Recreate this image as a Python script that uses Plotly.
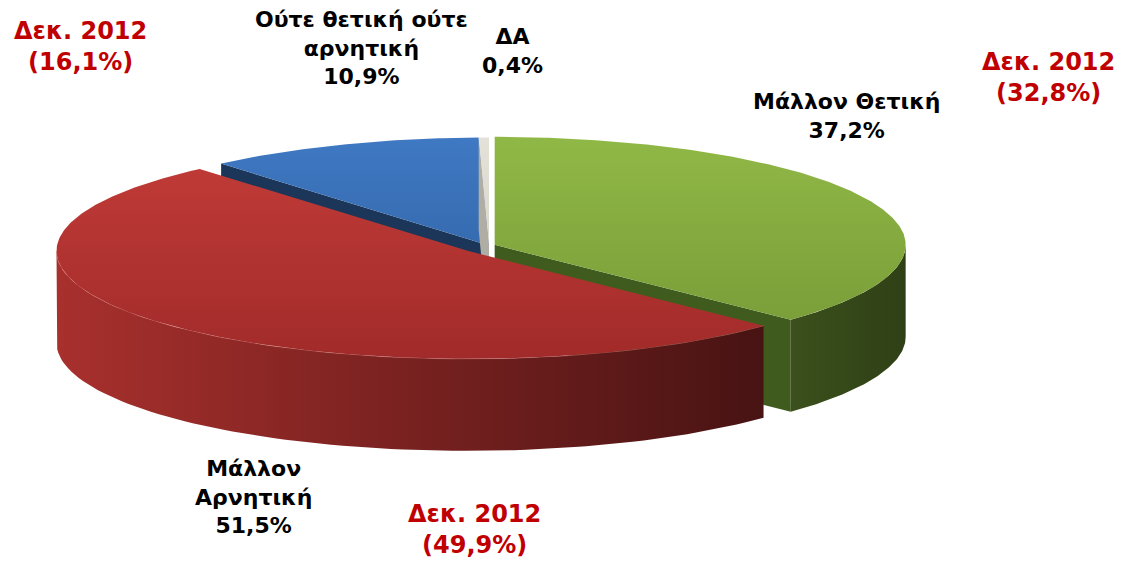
import numpy as np
import plotly.graph_objects as go

# data
labels = ['Μάλλον Θετική', 'Μάλλον<br>Αρνητική', 'Ούτε θετική ούτε<br>αρνητική', 'ΔΑ']
values = [37.2, 51.5, 10.9, 0.4]
dec2012 = [32.8, 49.9, 16.1, None]

# style
top_colors = [('#90b846', '#779a37'), ('#c33c38', '#a12b2a'), ('#3f79c3', '#2d5d9c'), ('#e4e1d8', '#cfccc2')]
wall_colors = [('#3b501c', '#2f4016'), ('#a8302d', '#481313'), ('#1f3d63', '#1a3355'), ('#bdbab2', '#bdbab2')]
face_colors = ['#3f5b1d', '#5a1818', '#1b3658', '#b0ada5']
pulls = [0.015, 0.072, 0.0, 0.0]
draw_order = [2, 3, 0, 1]

cx, cy = 489, 245.5
rx, ry = 411, 108
depth = 92

# page body adds an 8px margin, so the axes start at 8
off = 8


def pt(px, py, a):
    r = np.radians(a)
    return px + rx * np.sin(r), py - ry * np.cos(r)


def fmt(v):
    return ('%.1f' % v).replace('.', ',') + '%'


total = sum(values)
ends = np.cumsum(values) / total * 360
starts = np.concatenate([[0], ends[:-1]])

fig = go.Figure()


def poly(xs, ys, color=None, grad=None):
    kw = dict(x=list(xs), y=list(ys), mode='lines', fill='toself',
              line=dict(width=0), hoverinfo='skip', showlegend=False)
    if grad is not None:
        kw['fillgradient'] = grad
    else:
        kw['fillcolor'] = color
    fig.add_trace(go.Scatter(**kw))


for i in draw_order:
    a1, a2 = starts[i], ends[i]
    mid = np.radians((a1 + a2) / 2)
    px = cx + pulls[i] * rx * np.sin(mid)
    py = cy - pulls[i] * ry * np.cos(mid)

    # radial faces
    for a, n in ((a1, a1 - 90), (a2, a2 + 90)):
        if np.cos(np.radians(n)) < -0.01:
            ex, ey = pt(px, py, a)
            poly([px, ex, ex, px], [py, ey, ey + depth, py + depth], face_colors[i])

    # outer wall, front half only
    lo, hi = max(a1, 90), min(a2, 270)
    if lo < hi:
        arc = np.linspace(lo, hi, 80)
        ax, ay = pt(px, py, arc)
        xs = np.concatenate([ax, ax[::-1]])
        ys = np.concatenate([ay, ay[::-1] + depth])
        poly(xs, ys, grad=dict(type='horizontal', start=float(ax.min()), stop=float(ax.max()),
                               colorscale=[[0, wall_colors[i][0]], [1, wall_colors[i][1]]]))
        if i == 1:
            fig.add_trace(go.Scatter(x=ax, y=ay, mode='lines', line=dict(color='rgba(235,150,150,0.45)', width=1),
                                     hoverinfo='skip', showlegend=False))

    # top face
    arc = np.linspace(a1, a2, max(int(a2 - a1) * 2, 4))
    ax, ay = pt(px, py, arc)
    xs = np.concatenate([[px], ax, [px]])
    ys = np.concatenate([[py], ay, [py]])
    poly(xs, ys, grad=dict(type='vertical', start=float(py - ry), stop=float(py + ry),
                           colorscale=[[0, top_colors[i][0]], [1, top_colors[i][1]]]))

# labels
label_pos = [(846, 116), (253, 497), (361, 48), (512, 51)]
dec_pos = [(1048, 77), (474, 529), (80, 46), None]
for i in range(len(values)):
    fig.add_annotation(x=label_pos[i][0], y=label_pos[i][1], xref='x', yref='y',
                       text=labels[i] + '<br>' + fmt(values[i]), showarrow=False,
                       font=dict(family='DejaVu Sans', size=22, color='black', weight='bold'))
    if dec2012[i] is not None:
        fig.add_annotation(x=dec_pos[i][0], y=dec_pos[i][1], xref='x', yref='y',
                           text='Δεκ. 2012<br>(' + fmt(dec2012[i]) + ')', showarrow=False,
                           font=dict(family='DejaVu Sans', size=24, color='#c00000', weight='bold'))

fig.update_layout(width=1122 - off, height=562 - off, margin=dict(l=0, r=0, t=0, b=0),
                  paper_bgcolor='white', plot_bgcolor='white',
                  xaxis=dict(range=[off, 1122], visible=False, fixedrange=True),
                  yaxis=dict(range=[562, off], visible=False, fixedrange=True))

fig.write_html("out.html")
